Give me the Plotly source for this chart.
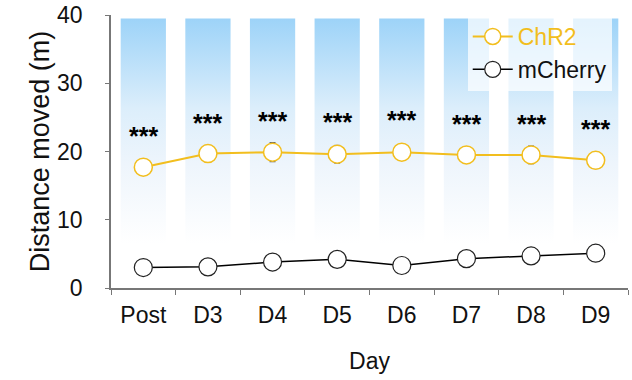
import plotly.graph_objects as go

days = ["Post", "D3", "D4", "D5", "D6", "D7", "D8", "D9"]
chr2 = [17.7, 19.7, 19.9, 19.6, 19.9, 19.5, 19.5, 18.7]
chr2_err = [0.5, 1.2, 1.4, 1.3, 1.0, 1.2, 1.3, 1.2]
mcherry = [3.0, 3.1, 3.8, 4.2, 3.3, 4.3, 4.7, 5.1]
mcherry_err = [0.3, 0.3, 0.3, 0.3, 0.3, 0.3, 0.3, 0.3]
star_y = [22.7, 24.6, 24.9, 24.7, 25.0, 24.4, 24.4, 23.7]
stars = ["***"] * 8
bar_bottom = 6.5
bar_top = 39.5
bar_halfwidth = 0.35

GOLD = "#F2BE1E"
FONT = "Liberation Sans, Arial, sans-serif"

idx = list(range(len(days)))

fig = go.Figure()

# background gradient columns
for i in idx:
    xs = [i - bar_halfwidth, i + bar_halfwidth, i + bar_halfwidth, i - bar_halfwidth, i - bar_halfwidth]
    ys = [bar_bottom, bar_bottom, bar_top, bar_top, bar_bottom]
    fig.add_trace(go.Scatter(
        x=xs, y=ys, mode="lines", line=dict(width=0),
        fill="toself",
        fillgradient=dict(type="vertical",
                          colorscale=[[0, "rgba(255,255,255,1)"], [0.35, "#EEF5FC"],
                                      [0.6, "#DCEEFB"], [1, "#9DD3F8"]]),
        showlegend=False, hoverinfo="skip"))

fig.add_trace(go.Scatter(
    x=idx, y=chr2, name=f"<span style='color:{GOLD}'>ChR2</span>", mode="lines+markers",
    line=dict(color=GOLD, width=2),
    marker=dict(symbol="circle", size=18, color="white", line=dict(color=GOLD, width=1.5)),
    error_y=dict(type="data", array=chr2_err, color="#555", thickness=1, width=3),
))
fig.add_trace(go.Scatter(
    x=idx, y=mcherry, name="mCherry", mode="lines+markers",
    line=dict(color="black", width=1.5),
    marker=dict(symbol="circle", size=18, color="white", line=dict(color="#222", width=1.2)),
    error_y=dict(type="data", array=mcherry_err, color="#555", thickness=1, width=3),
))

for i, y, s in zip(idx, star_y, stars):
    fig.add_annotation(x=i, y=y, text=f"<b>{s}</b>", showarrow=False,
                       font=dict(size=25, color="black", family=FONT), yshift=-3)

fig.update_layout(
    width=632, height=380,
    margin=dict(l=111, r=4, t=15, b=92),
    paper_bgcolor="white", plot_bgcolor="white",
    font=dict(family=FONT, color="#111"),
    showlegend=True,
    legend=dict(x=0.69, y=1.0, xanchor="left", yanchor="top",
                bgcolor="rgba(255,255,255,0.72)",
                font=dict(size=23, color="#111"),
                itemwidth=40, tracegroupgap=0),
    xaxis=dict(range=[-0.5, 7.5], tickvals=idx, ticktext=days, automargin=False,
               showline=True, linecolor="#777", linewidth=1.5,
               ticks="", minor=dict(ticks="outside", tick0=0.5, dtick=1, ticklen=5, tickcolor="#777"),
               tickfont=dict(size=23, color="#111"), ticklabelstandoff=6,
               title=dict(text="Day", font=dict(size=23, color="#111"), standoff=26),
               showgrid=False, zeroline=False),
    yaxis=dict(range=[0, 40], tickvals=[0, 10, 20, 30, 40], showline=True, automargin=False,
               linecolor="#777", linewidth=1.5, ticks="outside", ticklen=4, tickcolor="#777",
               tickfont=dict(size=23, color="#111"), ticklabelstandoff=18,
               ticklabeloverflow="allow",
               title=dict(text="Distance moved (m)", font=dict(size=27, color="#111"), standoff=0),
               showgrid=False, zeroline=False),
)

fig.write_html("out.html", config={"displayModeBar": False},
               post_script="document.body.style.margin='0';document.body.style.padding='0';")
